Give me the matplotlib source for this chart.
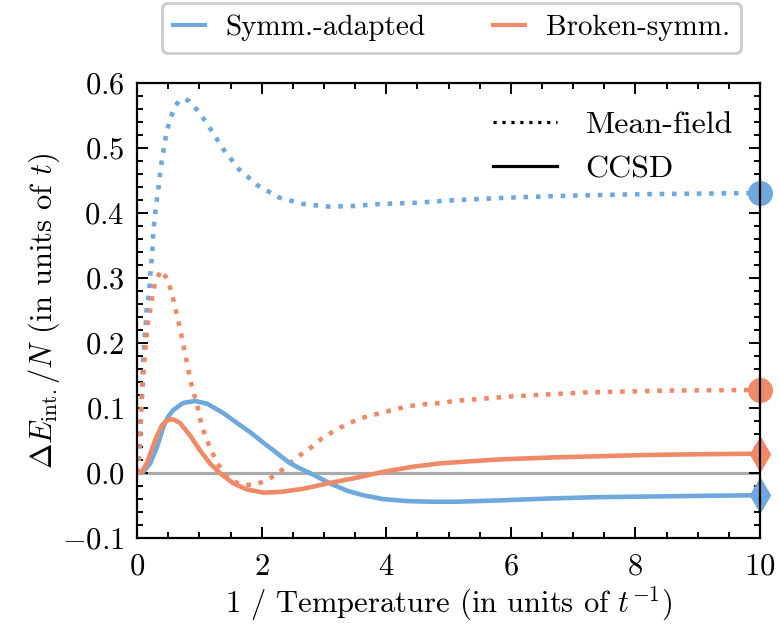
import matplotlib

matplotlib.use("Agg")
import matplotlib.pyplot as plt
from matplotlib.lines import Line2D
from matplotlib.ticker import MultipleLocator

# Values
beta_sa_mf = [0, 0.03, 0.06, 0.09, 0.115, 0.144, 0.155, 0.193, 0.219, 0.241, 0.262,
              0.284, 0.305, 0.332, 0.358, 0.38, 0.412, 0.444, 0.482, 0.541, 0.61,
              0.68, 0.759, 0.84, 0.92, 1.04, 1.16, 1.38, 1.63, 1.93, 2.28, 2.67,
              3.08, 3.49, 3.89, 4.49, 5.11, 6.0, 7.0, 8.0, 9.0, 10.0]
e_sa_mf = [0, 0.02, 0.08, 0.155, 0.2, 0.238, 0.256, 0.276, 0.315, 0.335, 0.374,
           0.393, 0.412, 0.431, 0.451, 0.47, 0.489, 0.509, 0.528, 0.547, 0.565,
           0.573, 0.576, 0.572, 0.564, 0.549, 0.532, 0.499, 0.468, 0.443, 0.424, 0.414,
           0.41, 0.411, 0.414, 0.416, 0.42, 0.424, 0.427, 0.429, 0.43, 0.431]

beta_bs_mf = [0, 0.03, 0.06, 0.1, 0.14, 0.18, 0.22, 0.25, 0.29, 0.385, 0.49, 0.55,
              0.6, 0.64, 0.69, 0.73, 0.77, 0.81, 0.85, 0.9, 0.96, 1.0, 1.05, 1.12,
              1.2, 1.29, 1.41, 1.55, 1.71, 1.89, 2.08, 2.27, 2.43, 2.62, 2.8, 2.96,
              3.15, 3.34, 3.53, 3.71, 3.9, 4.09, 4.27, 4.49, 4.89, 5.1, 6.0, 7.16,
              8.5, 10.0]
e_bs_mf = [0, 0.03, 0.09, 0.15, 0.2, 0.238, 0.256, 0.275, 0.294, 0.312, 0.298,
           0.279, 0.26, 0.242, 0.222, 0.203, 0.184, 0.165, 0.145, 0.126, 0.107,
           0.088, 0.069, 0.051, 0.033, 0.015, -0.002, -0.013, -0.018, -0.018,
           -0.011, 0.0, 0.014, 0.028, 0.04, 0.053, 0.064, 0.074, 0.082, 0.088,
           0.092, 0.097, 0.101, 0.105, 0.108, 0.111, 0.118, 0.124, 0.127, 0.128]

beta_sa_cc = [0, 0.1, 0.21, 0.32, 0.42, 0.5, 0.58, 0.74, 0.93, 1.12, 1.39, 1.65,
              1.8, 1.92, 2.05, 2.19, 2.32, 2.46, 2.62, 2.78, 2.94, 3.1, 3.37, 3.63,
              3.95, 4.33, 4.7, 5.13, 5.8, 6.63, 7.4, 8.23, 9.0, 10.0]
e_sa_cc = [0, 0.002, 0.015, 0.04, 0.071, 0.087, 0.097, 0.108, 0.111, 0.107, 0.092,
           0.074, 0.064, 0.055, 0.045, 0.035, 0.025, 0.015, 0.007, 0.0, -0.008,
           -0.016, -0.027, -0.034, -0.04, -0.043, -0.044, -0.044, -0.042, -0.039,
           -0.037, -0.036, -0.035, -0.034]

beta_bs_cc = [0, 0.08, 0.155, 0.22, 0.29, 0.4, 0.48, 0.56, 0.62, 0.69, 0.85, 1.01,
              1.17, 1.33, 1.55, 1.76, 2.03, 2.3, 2.67, 3.1, 3.53, 3.95, 4.44, 4.86,
              5.16, 5.8, 6.63, 7.4, 8.23, 9.0, 10.0]
e_bs_cc = [0, 0.003, 0.015, 0.032, 0.051, 0.074, 0.081, 0.083, 0.081, 0.077, 0.058,
           0.035, 0.015, 0.0, -0.016, -0.025, -0.03, -0.029, -0.024, -0.015, -0.007,
           0.002, 0.01, 0.015, 0.017, 0.021, 0.024, 0.026, 0.028, 0.029, 0.03]

# Zero-temperature limits (markers at the right edge)
beta_end = 10.0
sa_mf_end = 0.431
bs_mf_end = 0.128
sa_cc_end = -0.034
bs_cc_end = 0.03

blue = "#6fa8dc"
orange = "#ef8a68"

plt.rcParams.update({
    "font.family": "serif",
    "font.serif": ["cmr10"],
    "mathtext.fontset": "cm",
    "axes.formatter.use_mathtext": True,
    "axes.unicode_minus": True,
    "font.size": 22,
    "axes.linewidth": 1.6,
})

fig = plt.figure(figsize=(7.79, 6.25), dpi=100)
ax = fig.add_axes([0.176, 0.139, 0.7996, 0.728])

ax.axhline(0.0, color="#aaaaaa", lw=2.3, zorder=1)

dots = (0, (1.0, 1.7))
ax.plot(beta_sa_mf, e_sa_mf, color=blue, lw=3.3, linestyle=dots)
ax.plot(beta_bs_mf, e_bs_mf, color=orange, lw=3.3, linestyle=dots)
ax.plot(beta_sa_cc, e_sa_cc, color=blue, lw=3.3)
ax.plot(beta_bs_cc, e_bs_cc, color=orange, lw=3.3)

ax.plot([beta_end], [sa_mf_end], "o", color=blue, ms=17, clip_on=False)
ax.plot([beta_end], [bs_mf_end], "o", color=orange, ms=17, clip_on=False)
ax.plot([beta_end], [sa_cc_end], "d", color=blue, ms=17, clip_on=False)
ax.plot([beta_end], [bs_cc_end], "d", color=orange, ms=17, clip_on=False)

ax.set_xlim(0, 10)
ax.set_ylim(-0.1, 0.6)
ax.xaxis.set_major_locator(MultipleLocator(2))
ax.xaxis.set_minor_locator(MultipleLocator(0.5))
ax.yaxis.set_major_locator(MultipleLocator(0.1))
ax.yaxis.set_minor_locator(MultipleLocator(0.02))
ax.tick_params(which="both", direction="in", top=True, right=True, width=1.4)
ax.tick_params(which="major", length=8)
ax.tick_params(axis="x", which="major", pad=11)
ax.tick_params(axis="y", which="major", pad=9)
ax.tick_params(which="minor", length=4)
for s in ax.spines.values():
    s.set_zorder(3)

ax.set_xlabel(r"1 / Temperature (in units of $t^{-1}$)", labelpad=3)
ax.set_ylabel(r"$\Delta E_{\rm int.}/N$ (in units of $t$)", labelpad=0)

# Method legend (inside, frameless)
method_handles = [
    Line2D([], [], color="black", lw=2.3, linestyle=(0, (1.0, 1.8))),
    Line2D([], [], color="black", lw=2.3),
]
leg2 = ax.legend(method_handles, ["Mean-field", "CCSD"], loc="upper right",
                 bbox_to_anchor=(0.977, 0.967), frameon=False, fontsize=23,
                 handlelength=2.0, handletextpad=0.9, borderaxespad=0.0,
                 labelspacing=0.5)

# Reference-state legend (outside, top)
ref_handles = [
    Line2D([], [], color=blue, lw=3.0),
    Line2D([], [], color=orange, lw=3.0),
]
leg1 = fig.legend(ref_handles, ["Symm.-adapted", "Broken-symm."], loc="center",
                  bbox_to_anchor=(451.5 / 779, 1 - 28 / 625), ncol=2, fontsize=21,
                  handlelength=1.1, handletextpad=0.7, columnspacing=2.3,
                  fancybox=True, framealpha=1.0, edgecolor="#cccccc")
leg1.get_frame().set_linewidth(2.0)

fig.savefig("out.png", dpi=100)
